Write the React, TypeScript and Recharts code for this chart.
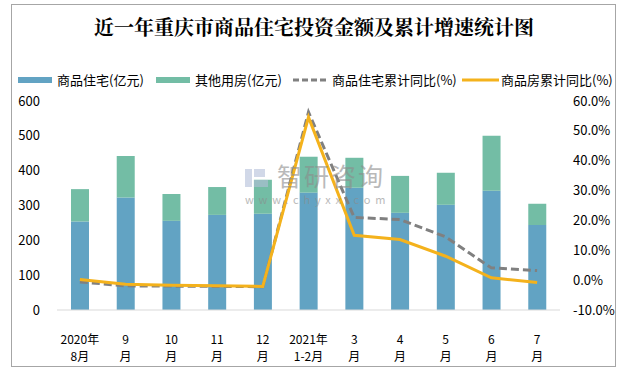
import React from "react";
import { ComposedChart, Bar, Line, XAxis, YAxis } from "recharts";

const categoryTop = ["2020年", "9", "10", "11", "12", "2021年", "3", "4", "5", "6", "7"];
const categoryBottom = ["8月", "月", "月", "月", "月", "1-2月", "月", "月", "月", "月", "月"];
const residential = [254, 323, 256, 273, 276, 337, 351, 279, 302, 342, 244];
const otherUse = [93, 119, 77, 80, 98, 103, 86, 106, 92, 158, 61];
const residentialYoY = [-0.6, -1.9, -2.0, -2.1, -2.2, 56.3, 21.0, 20.3, 14.5, 4.1, 3.2];
const commodityYoY = [0.2, -1.4, -1.7, -1.9, -2.1, 54.6, 15.0, 13.6, 8.0, 0.8, -0.8];
const leftTicks = [0, 100, 200, 300, 400, 500, 600];
const rightTicks = [-10, 0, 10, 20, 30, 40, 50, 60];

const data = categoryTop.map((t, i) => ({
  key: i,
  top: t,
  bottom: categoryBottom[i],
  residential: residential[i],
  otherUse: otherUse[i],
  residentialYoY: residentialYoY[i],
  commodityYoY: commodityYoY[i],
}));

const BLUE = "#62a3c3";
const GREEN = "#73bda5";
const GRAY = "#808080";
const ORANGE = "#f4b21c";
const FONT = "'Noto Sans CJK SC', 'Noto Sans', sans-serif";

const XTick = (props: any) => {
  const { x, y, payload } = props;
  const d = data[payload.value];
  return (
    <g transform={`translate(${x},${y})`}>
      <text textAnchor="middle" fontSize={12} fill="#000" fontFamily={FONT}>
        <tspan x={0} dy={26}>{d.top}</tspan>
        <tspan x={0} dy={17}>{d.bottom}</tspan>
      </text>
    </g>
  );
};

const legendItems = [
  { label: "商品住宅(亿元)", color: BLUE, type: "bar", x: 18 },
  { label: "其他用房(亿元)", color: GREEN, type: "bar", x: 156 },
  { label: "商品住宅累计同比(%)", color: GRAY, type: "dash", x: 293 },
  { label: "商品房累计同比(%)", color: ORANGE, type: "line", x: 462 },
];

export default function App() {
  return (
    <div style={{ position: "absolute", left: 0, top: 0, width: 628, height: 372, background: "#fff", fontFamily: FONT }}>
      <div style={{ position: "absolute", left: 11, top: 4, width: 603, height: 361, border: "1px solid #a6a6a6" }} />
      <div style={{ position: "absolute", left: 0, top: 13, width: 628, textAlign: "center", fontSize: 20, fontWeight: 700, color: "#000", lineHeight: "28px", fontFamily: "'Noto Serif CJK SC', 'Noto Sans CJK SC', serif" }}>
        近一年重庆市商品住宅投资金额及累计增速统计图
      </div>
      <svg style={{ position: "absolute", left: 0, top: 0 }} width={628} height={100}>
        {legendItems.map((it) => (
          <g key={it.label}>
            {it.type === "bar" && <rect x={it.x} y={77} width={34} height={6} fill={it.color} />}
            {it.type === "dash" && <line x1={it.x} x2={it.x + 34} y1={80} y2={80} stroke={it.color} strokeWidth={3} strokeDasharray="6 3" />}
            {it.type === "line" && <line x1={it.x} x2={it.x + 37} y1={80} y2={80} stroke={it.color} strokeWidth={3} />}
            <text x={it.x + 39} y={84.5} fontSize={13} fill="#000" fontFamily={FONT}>{it.label}</text>
          </g>
        ))}
      </svg>
      <div style={{ position: "absolute", left: 0, top: 0 }}>
        <ComposedChart width={628} height={372} data={data} margin={{ top: 101, right: 0, bottom: 0, left: 0 }} barCategoryGap={0}>
          <XAxis dataKey="key" tick={<XTick />} tickLine={false} axisLine={{ stroke: "#d9d9d9", strokeWidth: 1 }} height={62} interval={0} />
          <YAxis yAxisId="left" orientation="left" width={57} domain={[0, 600]} ticks={leftTicks} axisLine={false} tickLine={false} tickSize={0} tickMargin={17} tick={{ fontSize: 13, fill: "#000", fontFamily: FONT }} />
          <YAxis yAxisId="right" orientation="right" width={68} domain={[-10, 60]} ticks={rightTicks} axisLine={false} tickLine={false} tickSize={0} tickMargin={13} tickFormatter={(v: number) => `${v.toFixed(1)}%`} tick={{ fontSize: 13, fill: "#000", fontFamily: FONT, textAnchor: "start" }} />
          <Bar yAxisId="left" dataKey="residential" stackId="s" fill={BLUE} barSize={18} isAnimationActive={false} />
          <Bar yAxisId="left" dataKey="otherUse" stackId="s" fill={GREEN} barSize={18} isAnimationActive={false} />
          <Line yAxisId="right" type="linear" dataKey="residentialYoY" stroke={GRAY} strokeWidth={3} strokeDasharray="8 4" dot={false} isAnimationActive={false} />
          <Line yAxisId="right" type="linear" dataKey="commodityYoY" stroke={ORANGE} strokeWidth={3} dot={false} isAnimationActive={false} />
        </ComposedChart>
      </div>
      <svg style={{ position: "absolute", left: 0, top: 0, pointerEvents: "none" }} width={628} height={372}>
        <g opacity={0.6}>
          <rect x={245} y={169} width={7} height={18} fill="#b4bfd9" />
          <rect x={254} y={169} width={11} height={8} fill="#b4bfd9" />
          <rect x={254} y={180} width={14} height={7} fill="#b4bfd9" />
          <text x={277} y={186} fontSize={25} fill="#8c8c8c" fontFamily={FONT} letterSpacing={2}>智研咨询</text>
          <text x={245} y={204} fontSize={11} fill="#8c8c8c" fontFamily={FONT} letterSpacing={4.8}>www.chyxx.com</text>
        </g>
      </svg>
    </div>
  );
}
